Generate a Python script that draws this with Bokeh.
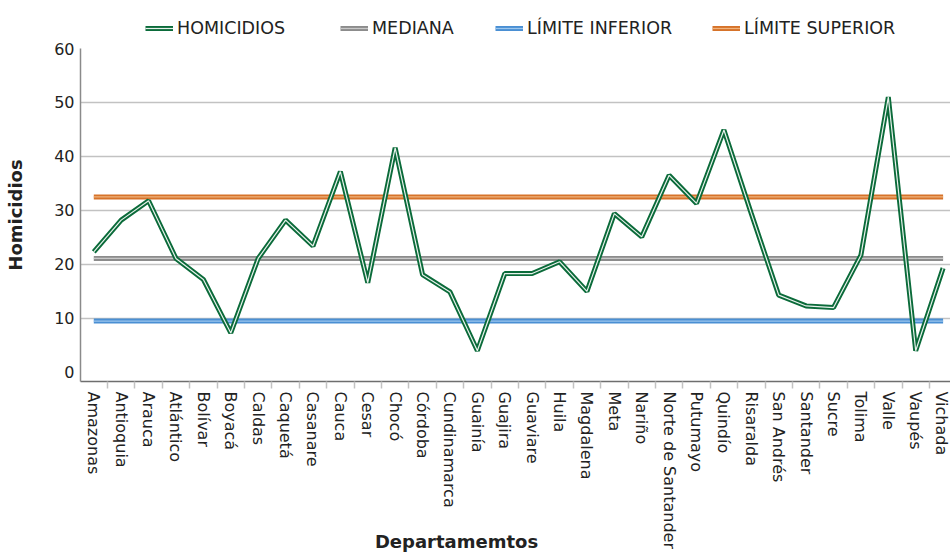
from bokeh.plotting import figure
from bokeh.models import Range1d, FixedTicker, Legend, LegendItem, LinearAxis
from bokeh.layouts import column
from bokeh.embed import file_html
from bokeh.resources import INLINE

departamentos = ["Amazonas", "Antioquia", "Arauca", "Atlántico", "Bolívar", "Boyacá",
                 "Caldas", "Caquetá", "Casanare", "Cauca", "Cesar", "Chocó", "Córdoba",
                 "Cundinamarca", "Guainía", "Guajira", "Guaviare", "Huila", "Magdalena",
                 "Meta", "Nariño", "Norte de Santander", "Putumayo", "Quindío", "Risaralda",
                 "San Andrés", "Santander", "Sucre", "Tolima", "Valle", "Vaupés", "Vichada"]
homicidios = [22.3, 28.2, 31.8, 21.1, 17.2, 7.3, 21.1, 28.2, 23.4, 37.2, 16.6, 41.6,
              18.1, 14.9, 4.0, 18.3, 18.3, 20.5, 15.0, 29.4, 25.1, 36.5, 31.3, 44.9,
              29.4, 14.3, 12.3, 12.0, 21.7, 51.0, 4.0, 19.3]
mediana = 21.1
limite_inferior = 9.5
limite_superior = 32.5
y_ticks = [0, 10, 20, 30, 40, 50, 60]
series_labels = ["HOMICIDIOS", "MEDIANA", "LÍMITE INFERIOR", "LÍMITE SUPERIOR"]

FONT = "DejaVu Sans"
TXT = "#222222"
STYLES = [("#0b6b3a", "#e8f2ec"), ("#8c8c8c", "#c8c8c8"),
          ("#4a8fd3", "#9cc6ee"), ("#d6732a", "#f0b47e")]

xs = list(range(len(departamentos)))
series_values = [homicidios, [mediana] * len(xs), [limite_inferior] * len(xs),
                 [limite_superior] * len(xs)]


def double_line(fig, xv, yv, outer, inner, w_out=5, w_in=1.2):
    r1 = fig.line(xv, yv, line_color=outer, line_width=w_out, line_join="bevel")
    r2 = fig.line(xv, yv, line_color=inner, line_width=w_in, line_join="bevel")
    return [r1, r2]


# ---------------- main chart ----------------
p = figure(width=950, height=514, output_backend="svg", toolbar_location=None,
           x_range=Range1d(-0.485, 31.27), y_range=Range1d(-1.7, 60),
           min_border_left=80, min_border_right=0, min_border_top=8,
           min_border_bottom=10)
p.outline_line_color = None

p.xgrid.visible = False
p.ygrid.ticker = FixedTicker(ticks=y_ticks[1:])
p.ygrid.grid_line_color = "#c2c2c2"
p.ygrid.grid_line_width = 1.6

p.yaxis.ticker = FixedTicker(ticks=y_ticks)
p.yaxis.major_tick_out = 0
p.yaxis.major_tick_in = 0
p.yaxis.minor_tick_out = 0
p.yaxis.minor_tick_in = 0
p.yaxis.axis_line_color = "#8a8a8a"
p.yaxis.axis_line_width = 1.5
p.yaxis.major_label_text_font = FONT
p.yaxis.major_label_text_font_size = "16px"
p.yaxis.major_label_text_color = TXT
p.yaxis.major_label_standoff = 6
p.yaxis.axis_label = "Homicidios"
p.yaxis.axis_label_text_font = FONT
p.yaxis.axis_label_text_font_style = "bold"
p.yaxis.axis_label_text_font_size = "18px"
p.yaxis.axis_label_text_color = TXT
p.yaxis.axis_label_standoff = 25

p.xaxis.ticker = FixedTicker(ticks=xs, minor_ticks=[i + 0.5 for i in range(-1, len(xs))])
p.xaxis.major_label_overrides = {i: d for i, d in zip(xs, departamentos)}
p.xaxis.major_label_orientation = "vertical"
p.xaxis.major_tick_out = 0
p.xaxis.major_tick_in = 0
p.xaxis.minor_tick_out = 7
p.xaxis.minor_tick_in = 0
p.xaxis.minor_tick_line_color = "#c2c2c2"
p.xaxis.minor_tick_line_width = 1.5
p.xaxis.axis_line_color = "#6e6e6e"
p.xaxis.axis_line_width = 1.5
p.xaxis.major_label_text_font = FONT
p.xaxis.major_label_text_font_size = "16px"
p.xaxis.major_label_text_color = TXT
p.xaxis.major_label_standoff = 3

# x-axis title drawn as the single label of a second, line-less axis
title_pos = 13.24
title_axis = LinearAxis(ticker=FixedTicker(ticks=[title_pos]),
                        major_label_overrides={title_pos: "Departamemtos"})
title_axis.axis_line_color = None
title_axis.major_tick_line_color = None
title_axis.minor_tick_line_color = None
title_axis.major_tick_out = 0
title_axis.major_label_standoff = -22
title_axis.major_label_text_font = FONT
title_axis.major_label_text_font_style = "bold"
title_axis.major_label_text_font_size = "18px"
title_axis.major_label_text_color = TXT
p.add_layout(title_axis, "below")

for vals, (oc, ic) in list(zip(series_values, STYLES))[1:] + [(series_values[0], STYLES[0])]:
    double_line(p, xs, vals, oc, ic)

# ---------------- legend strip ----------------
# same series, drawn outside this strip's visible range: only the legend shows
lg = figure(width=950, height=40, output_backend="svg", toolbar_location=None,
            x_axis_type=None, y_axis_type=None, min_border=0,
            x_range=Range1d(0, 1), y_range=Range1d(-1000, -999))
lg.outline_line_color = None
lg.xgrid.visible = False
lg.ygrid.visible = False
legend_x = [65, 260, 415, 632]
for lab, vals, (oc, ic), lx in zip(series_labels, series_values, STYLES, legend_x):
    rs = double_line(lg, xs, vals, oc, ic)
    leg = Legend(items=[LegendItem(label=lab, renderers=rs)], location=(lx, 2))
    leg.label_text_font = FONT
    leg.label_text_font_size = "17.5px"
    leg.label_text_color = TXT
    leg.glyph_width = 28
    leg.glyph_height = 20
    leg.label_height = 20
    leg.label_standoff = 4
    leg.padding = 0
    leg.margin = 0
    leg.border_line_color = None
    leg.background_fill_alpha = 0
    lg.add_layout(leg)

layout = column(lg, p, spacing=0)
open("out.html", "w").write(file_html(layout, INLINE))
